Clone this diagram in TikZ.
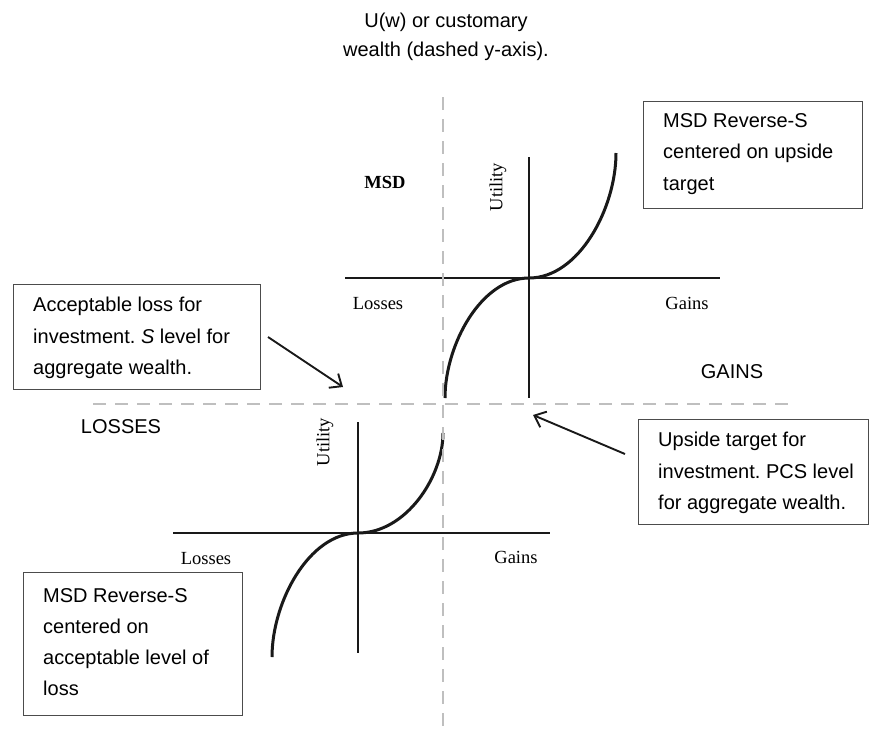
\documentclass[tikz,border=0pt]{standalone}
\usepackage{fontspec}
\setmainfont{Liberation Sans}
\newfontfamily\serifT{Liberation Serif}
\usetikzlibrary{arrows.meta}
\frenchspacing
\begin{document}
\begin{tikzpicture}[x=1pt,y=-1pt,
  sans/.style={font=\fontsize{20}{29}\selectfont, inner sep=0pt},
  ser/.style={font=\serifT\fontsize{18.5}{22}\selectfont, inner sep=0pt},
  axis/.style={line width=2.9pt, black!90, line cap=butt},
  curve/.style={line width=3pt, black!90},
  dashaxis/.style={line width=2.6pt, black!25, dash pattern=on 13pt off 9pt},
  box/.style={draw=black!70, line width=1pt, anchor=north west, inner sep=0pt},
  boxtext/.style={anchor=west, inner sep=0pt, align=left, font=\fontsize{20}{31.5}\selectfont},
  pointer/.style={line width=1.9pt, black!90, -{Straight Barb[length=10pt,width=17pt,line width=1.9pt]}}
]
\fill[white] (0,0) rectangle (872,729);
\useasboundingbox (0,0) rectangle (872,729);

% ---------- upper system ----------
\coordinate (O1) at (529,278);
\coordinate (h1a) at (345,278);
\coordinate (h1b) at (720,278);
\coordinate (v1a) at (529,157);
\coordinate (v1b) at (529,398);
\draw[axis] (h1a) -- (h1b);
\draw[axis] (v1a) -- (v1b);
\draw[curve] (O1) .. controls ++(50,0) and (616,208) .. (616,153);
\draw[curve] (O1) .. controls ++(-48,0) and (445,345) .. (445,398);

% ---------- lower system ----------
\coordinate (O2) at (358,533);
\coordinate (h2a) at (173,533);
\coordinate (h2b) at (550,533);
\coordinate (v2a) at (358,422);
\coordinate (v2b) at (358,653);
\draw[axis] (h2a) -- (h2b);
\draw[axis] (v2a) -- (v2b);
\draw[curve] (O2) .. controls ++(48,0) and (443,477) .. (443,433);
\draw[curve] (O2) .. controls ++(-49,0) and (272,602) .. (272,657);

% ---------- dashed customary-wealth axes ----------
\coordinate (dya) at (443,97);
\coordinate (dyb) at (443,729);
\coordinate (dxa) at (93,404);
\coordinate (dxb) at (793,404);
\draw[dashaxis] (dya) -- (dyb);
\draw[dashaxis] (dxa) -- (dxb);

% ---------- labels ----------
\node[sans, align=center] (title) at (446,36.5) {U(w) or customary\\wealth (dashed y-axis).};
\node[sans] (gainsBig) at (732,372) {GAINS};
\node[sans] (lossesBig) at (121,427) {LOSSES};

\node[ser, font=\serifT\bfseries\fontsize{18.5}{22}\selectfont] (msd) at (385,182) {MSD};
\node[ser, rotate=90] (util1) at (498,187) {Utility};
\node[ser] (loss1) at (378,304) {Losses};
\node[ser] (gain1) at (687,303) {Gains};

\node[ser, rotate=90] (util2) at (325,442) {Utility};
\node[ser] (loss2) at (206,559) {Losses};
\node[ser] (gain2) at (516,557) {Gains};

% ---------- boxes ----------
\node[box, minimum width=219pt, minimum height=107pt] (boxTR) at (643,101) {};
\node[boxtext] (txtTR) at ([xshift=20pt,yshift=1pt]boxTR.west)
  {MSD Reverse-S\\centered on upside\\target};
\node[box, minimum width=247pt, minimum height=105pt] (boxL) at (13,284) {};
\node[boxtext] (txtL) at ([xshift=20pt,yshift=-1pt]boxL.west)
  {Acceptable loss for\\investment. \textit{S} level for\\aggregate wealth.};
\node[box, minimum width=230pt, minimum height=105pt] (boxR) at (638,419) {};
\node[boxtext] (txtR) at ([xshift=20pt,yshift=-1pt]boxR.west)
  {Upside target for\\investment. PCS level\\for aggregate wealth.};
\node[box, minimum width=219pt, minimum height=143pt] (boxLL) at (23,572) {};
\node[boxtext, font=\fontsize{20}{31}\selectfont] (txtLL) at ([xshift=20pt,yshift=2pt]boxLL.west)
  {MSD Reverse-S\\centered on\\acceptable level of\\loss};

% ---------- pointers ----------
\coordinate (la1) at ([xshift=7pt]boxL.east);
\coordinate (la2) at (343,387);
\coordinate (ra1) at (625,454);
\coordinate (ra2) at (533,415);
\draw[pointer] (la1) -- (la2);
\draw[pointer] (ra1) -- (ra2);
\end{tikzpicture}
\end{document}
